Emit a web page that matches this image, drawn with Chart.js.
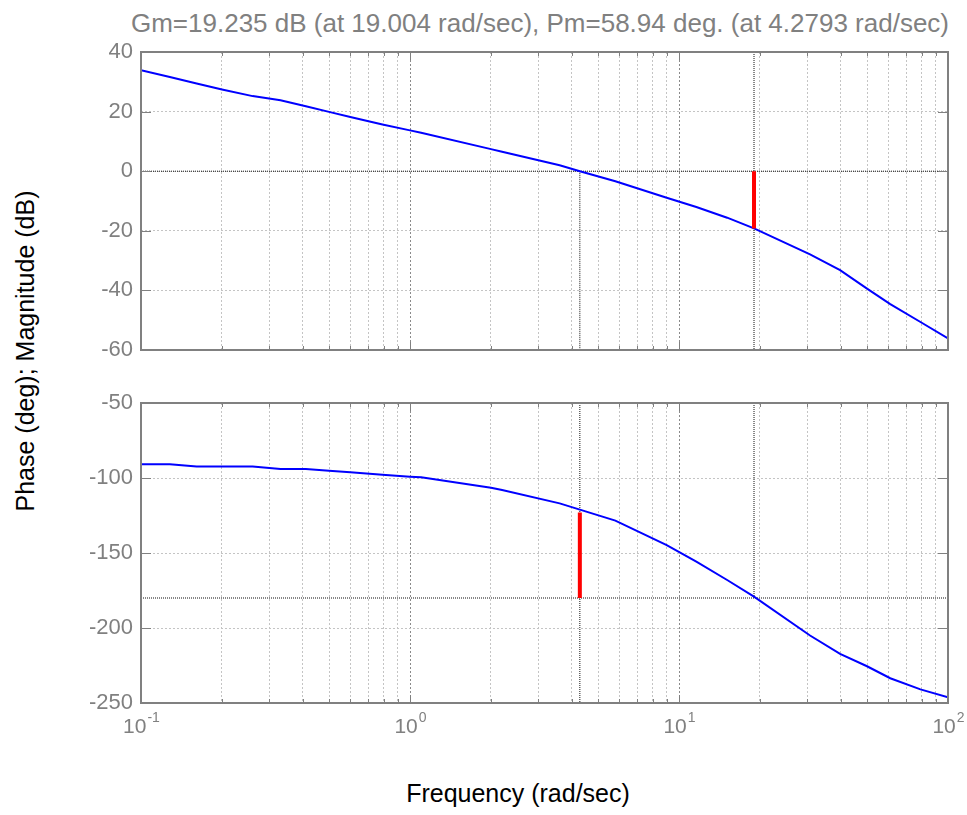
<!DOCTYPE html>
<html>
<head>
<meta charset="utf-8">
<script src="https://cdn.jsdelivr.net/npm/chart.js@4"></script>
<style>
  body { margin: 0; background: #fff; }
  #wrap { position: relative; width: 967px; height: 815px; font-family: 'Liberation Sans', Arial, sans-serif; }
  #wrap canvas { position: absolute; left: 0; }
  .lbl { position: absolute; white-space: nowrap; }
</style>
</head>
<body>
<div id="wrap">
  <div class="lbl" id="title" style="left:540px; top:23px; transform:translate(-50%,-50%); font-size:26px; color:#808080;">Gm=19.235 dB (at 19.004 rad/sec), Pm=58.94 deg. (at 4.2793 rad/sec)</div>
  <div class="lbl" id="ylab" style="left:25px; top:351px; transform:translate(-50%,-50%) rotate(-90deg); font-size:25px; color:#000;">Phase (deg); Magnitude (dB)</div>
  <div class="lbl" id="xlab" style="left:518px; top:793px; transform:translate(-50%,-50%); font-size:25px; color:#000;">Frequency (rad/sec)</div>
  <canvas id="mag" width="967" height="380" style="top:0"></canvas>
  <canvas id="phase" width="967" height="435" style="top:380px"></canvas>
</div>
<script>
// values
const freq     = [0.1, 0.128, 0.161, 0.2, 0.26, 0.33, 0.41, 0.5, 0.6, 0.79, 1.0, 1.1, 2.0, 2.2, 3.6, 4.28, 5.8, 9.0, 11.6, 15.1, 19.0, 30.7, 39.7, 50, 61, 79, 100];
const magDb    = [33.9, 31.6, 29.4, 27.4, 25.2, 23.8, 21.8, 19.9, 18.2, 15.7, 13.7, 12.9, 7.4, 6.5, 2.0, 0.0, -3.4, -8.9, -12.0, -15.6, -19.2, -27.9, -33.2, -39.4, -44.6, -50.6, -56.1];
const phaseDeg = [-90.9, -90.9, -92.4, -92.4, -92.4, -94.0, -94.0, -95.2, -96.2, -97.8, -99.1, -99.5, -106.5, -108.0, -116.9, -121.1, -128.4, -144.7, -155.8, -168.0, -179.1, -205.0, -217.3, -225.5, -233.5, -240.9, -246.2];

const gmFreq = 19.004, gmDb = 19.235;
const pmFreq = 4.2793, pmDeg = 58.94;

const xDecades  = [0.1, 1, 10, 100];
const xExponents = ['-1', '0', '1', '2'];
const gridFreqs = [0.1, 0.2, 0.3, 0.4, 0.5, 0.6, 0.7, 0.8, 0.9,
                   1, 2, 3, 4, 5, 6, 7, 8, 9,
                   10, 20, 30, 40, 50, 60, 70, 80, 90, 100];

const GRAY = '#808080';
const FONT = "'Liberation Sans', Arial, sans-serif";

const isDecade = v => Math.abs(Math.log10(v) - Math.round(Math.log10(v))) < 1e-6;

const pts = (xs, ys) => xs.map((x, i) => ({ x: x, y: ys[i] }));

function refLine(data) {
  return { data, borderColor: '#111', borderWidth: 1, borderDash: [1, 1], pointRadius: 0, order: 3 };
}

// box around the plot and the small inward ticks
const boxPlugin = {
  id: 'box',
  afterDraw(chart) {
    const { ctx, chartArea: a, scales } = chart;
    ctx.save();
    ctx.strokeStyle = GRAY;
    ctx.lineWidth = 1;
    scales.x.ticks.forEach(t => {
      const px = Math.round(scales.x.getPixelForValue(t.value)) + 0.5;
      const len = isDecade(t.value) ? 8 : 4;
      ctx.beginPath();
      ctx.moveTo(px, a.top); ctx.lineTo(px, a.top + len);
      ctx.moveTo(px, a.bottom); ctx.lineTo(px, a.bottom - len);
      ctx.stroke();
    });
    scales.y.ticks.forEach(t => {
      const py = Math.round(scales.y.getPixelForValue(t.value)) + 0.5;
      ctx.beginPath();
      ctx.moveTo(a.left, py); ctx.lineTo(a.left + 10, py);
      ctx.moveTo(a.right, py); ctx.lineTo(a.right - 10, py);
      ctx.stroke();
    });
    ctx.lineWidth = 2;
    ctx.strokeRect(a.left, a.top, a.right - a.left, a.bottom - a.top);
    ctx.restore();
  }
};

// 10^n labels under the lower plot
const expLabels = {
  id: 'expLabels',
  afterDraw(chart) {
    const { ctx, scales } = chart;
    ctx.save();
    ctx.fillStyle = GRAY;
    ctx.textBaseline = 'middle';
    xDecades.forEach((v, i) => {
      const px = scales.x.getPixelForValue(v);
      ctx.font = '21px ' + FONT;
      const wBase = ctx.measureText('10').width;
      ctx.font = '14px ' + FONT;
      const wExp = ctx.measureText(xExponents[i]).width;
      const x0 = px - (wBase + wExp) / 2;
      const y0 = chart.chartArea.bottom + 24;
      ctx.font = '21px ' + FONT;
      ctx.textAlign = 'left';
      ctx.fillText('10', x0, y0);
      ctx.font = '14px ' + FONT;
      ctx.fillText(xExponents[i], x0 + wBase + 1, y0 - 9);
    });
    ctx.restore();
  }
};

function xScale(height) {
  return {
    type: 'logarithmic',
    min: 0.1,
    max: 100,
    afterBuildTicks: s => { s.ticks = gridFreqs.map(v => ({ value: v, major: isDecade(v) })); },
    afterFit: s => { s.height = height; },
    ticks: { display: false },
    grid: {
      drawTicks: false,
      lineWidth: 1,
      color: c => (c.tick && isDecade(c.tick.value)) ? '#8a8a8a' : '#c4c4c4'
    },
    border: { display: false, dash: [2, 2] }
  };
}

function yScale(min, max, step) {
  return {
    min, max,
    afterFit: s => { s.width = 141; },
    ticks: {
      stepSize: step,
      padding: 8,
      color: GRAY,
      font: { family: FONT, size: 22 }
    },
    grid: { drawTicks: false, color: '#c4c4c4', lineWidth: 1 },
    border: { display: false, dash: [2, 2] }
  };
}

const common = {
  responsive: false,
  animation: false,
  events: [],
  plugins: { legend: { display: false }, tooltip: { enabled: false } },
  elements: { line: { tension: 0 } }
};

new Chart(document.getElementById('mag'), {
  type: 'line',
  data: {
    datasets: [
      { data: pts(freq, magDb), borderColor: '#0000ff', borderWidth: 2, pointRadius: 0, order: 2 },
      { data: pts([gmFreq, gmFreq], [0, -gmDb]), borderColor: '#ff0000', borderWidth: 4, pointRadius: 0, order: 1 },
      refLine(pts([0.1, 100], [0, 0])),
      refLine(pts([gmFreq, gmFreq], [40, -60])),
      refLine(pts([pmFreq, pmFreq], [0, -60]))
    ]
  },
  options: Object.assign({}, common, {
    layout: { padding: { top: 52, right: 19, left: 0, bottom: 0 } },
    scales: { x: xScale(30), y: yScale(-60, 40, 20) }
  }),
  plugins: [boxPlugin]
});

new Chart(document.getElementById('phase'), {
  type: 'line',
  data: {
    datasets: [
      { data: pts(freq, phaseDeg), borderColor: '#0000ff', borderWidth: 2, pointRadius: 0, order: 2 },
      { data: pts([pmFreq, pmFreq], [-180 + pmDeg - 2, -180]), borderColor: '#ff0000', borderWidth: 4, pointRadius: 0, order: 1 },
      refLine(pts([0.1, 100], [-180, -180])),
      refLine(pts([pmFreq, pmFreq], [-50, -250])),
      refLine(pts([gmFreq, gmFreq], [-50, -180]))
    ]
  },
  options: Object.assign({}, common, {
    layout: { padding: { top: 23, right: 19, left: 0, bottom: 0 } },
    scales: { x: xScale(112), y: yScale(-250, -50, 50) }
  }),
  plugins: [boxPlugin, expLabels]
});
</script>
</body>
</html>
